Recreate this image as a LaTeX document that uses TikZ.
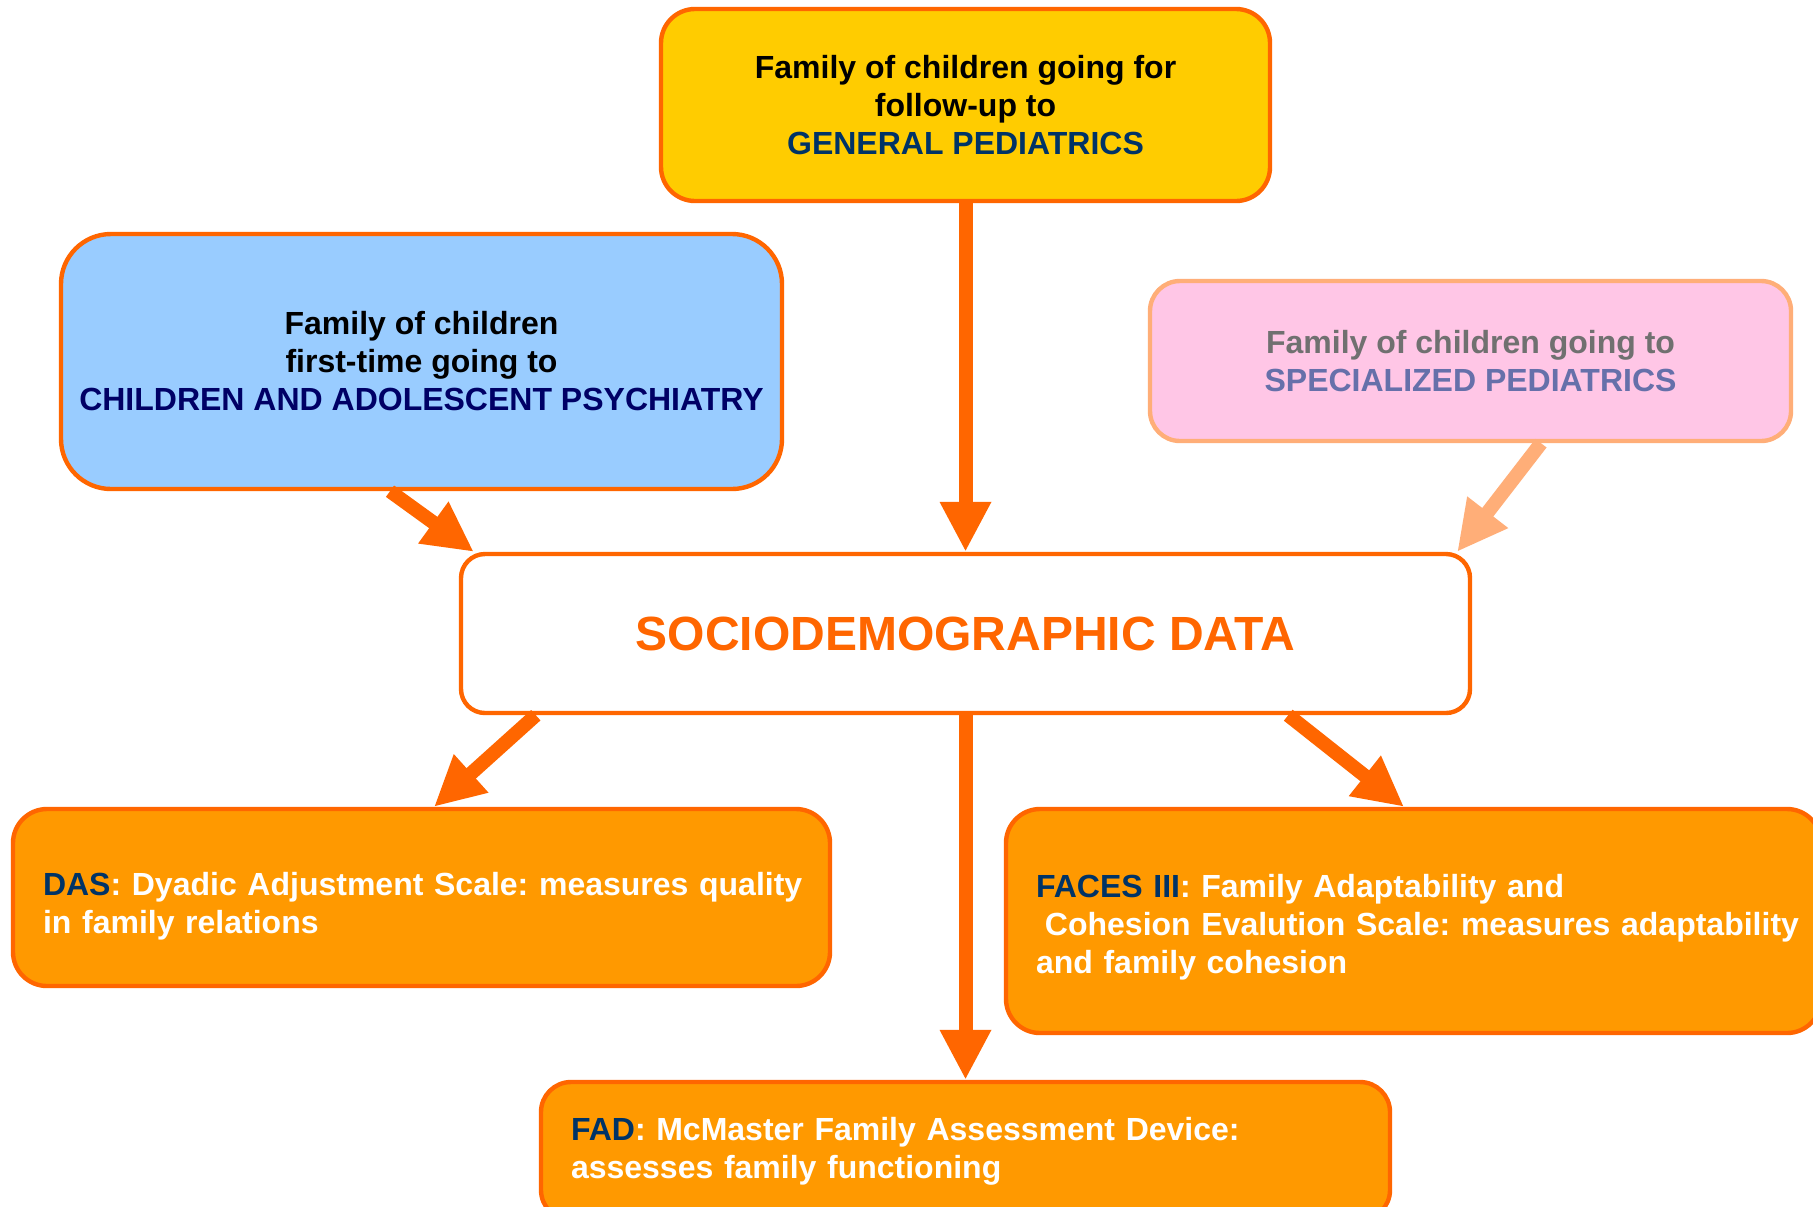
\documentclass[tikz,border=0pt]{standalone}
\usepackage{xcolor}
\usepackage{fontspec}
\setmainfont{Liberation Sans}
\usepackage{tikz}
\usetikzlibrary{arrows.meta}
\definecolor{orng}{HTML}{FF6600}
\definecolor{gold}{HTML}{FFCC00}
\definecolor{sky}{HTML}{99CCFF}
\definecolor{pink}{HTML}{FFC6E6}
\definecolor{peach}{HTML}{FFAE78}
\definecolor{amber}{HTML}{FF9900}
\definecolor{navy}{HTML}{003366}
\definecolor{deepnavy}{HTML}{000066}
\definecolor{greytext}{HTML}{707070}
\definecolor{slate}{HTML}{6670AA}
\newcommand\lift[1]{\rule{0pt}{#1}}
\tikzset{
  box/.style={draw=orng, line width=2.2pt, rounded corners=17pt, inner sep=0pt,
    font=\bfseries\fontsize{16}{19}\selectfont, align=center},
  tool/.style={box, fill=amber, text=white, align=left, inner xsep=15pt},
  arr/.style={draw=orng, line width=7pt, -{Triangle[length=25pt,width=24pt]}},
  soft/.style={draw=peach, line width=7pt, -{Triangle[length=25pt,width=24pt]}},
}

\begin{document}
\frenchspacing
\begin{tikzpicture}[x=0.5pt, y=-0.5pt]
  \clip (0,0) rectangle (1813,1206);
  \fill[white] (0,0) rectangle (1813,1206);

  \node[box, fill=gold, minimum width=304.5pt, minimum height=96pt] (gen) at (965.5,105)
    {Family of children going for\\ follow-up to\\ \textcolor{navy}{GENERAL PEDIATRICS}};
  \node[box, fill=sky, rounded corners=25pt, minimum width=360.5pt, minimum height=127.5pt] (psy) at (421.5,361.5)
    {Family of children\\ first-time going to\\ \textcolor{deepnavy}{CHILDREN AND ADOLESCENT PSYCHIATRY}};
  \node[box, draw=peach, fill=pink, text=greytext, rounded corners=15pt, minimum width=320.5pt, minimum height=80pt] (spec) at (1470.5,361)
    {Family of children going to\\ \textcolor{slate}{SPECIALIZED PEDIATRICS}};
  \node[box, fill=white, text=orng, rounded corners=12pt, minimum width=504.5pt, minimum height=79.5pt,
    font=\bfseries\fontsize{24}{28}\selectfont] (data) at (965.5,633.5) {SOCIODEMOGRAPHIC DATA};

  \node[tool, text width=378.5pt, minimum height=88.5pt] (das) at (421.5,897.5)
    {\mbox{\lift{20pt}\textcolor{navy}{DAS}: Dyadic Adjustment Scale: measures quality}\\ in family relations};
  \node[tool, text width=377.5pt, minimum height=112pt] (faces) at (1413.5,921)
    {\lift{17.5pt}\textcolor{navy}{FACES III}: Family Adaptability and\\ \mbox{\hspace*{.28em}Cohesion Evalution Scale: measures adaptability}\\ and family cohesion};
  \node[tool, rounded corners=15pt, text width=394.5pt, minimum height=69pt] (fad) at (965.5,1151)
    {\textcolor{navy}{FAD}: McMaster Family Assessment Device:\\ assesses family functioning};

  % into the data box
  \draw[arr]  (gen.south) -- (data.north);
  \draw[arr]  ([xshift=-15.75pt]psy.south) -- ([xshift=7.5pt]data.north west);
  \draw[soft] ([xshift=35.25pt]spec.south) -- ([xshift=-7.5pt]data.north east);

  \draw[arr] ([xshift=38.5pt]data.south west) -- ([xshift=6.25pt]das.north);
  \draw[arr] (data.south) -- (fad.north);
  \draw[arr] ([xshift=-92pt]data.south east) -- ([xshift=-4.75pt]faces.north);
\end{tikzpicture}
\end{document}
